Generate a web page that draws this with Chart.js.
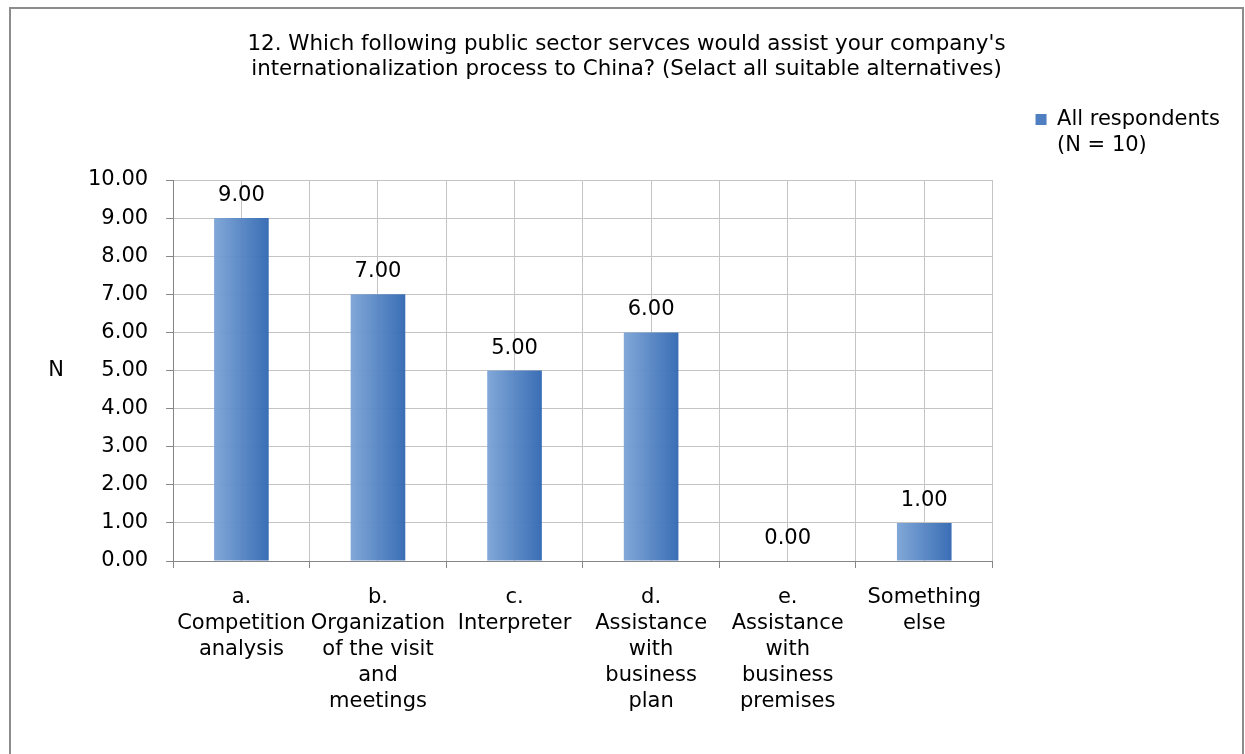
<!DOCTYPE html>
<html>
<head>
<meta charset="utf-8">
<script src="https://cdn.jsdelivr.net/npm/chart.js@4.4.1/dist/chart.umd.min.js"></script>
<style>
  html, body { margin: 0; padding: 0; background: #fff; overflow: hidden; }
  #frame { position: absolute; left: 9px; top: 7px; width: 1231px; height: 800px; border: 2px solid #8c8c8c; }
  #wrap { position: relative; width: 1231px; height: 745px; }
</style>
</head>
<body>
<div id="frame"><div id="wrap"><canvas id="chart"></canvas></div></div>
<script>
// ── Data ──────────────────────────────────────────────────────────────────────
const titleLines = [
  "12. Which following public sector servces would assist your company's",
  'internationalization process to China? (Selact all suitable alternatives)'
];
const categories = [
  ['a.', 'Competition', 'analysis'],
  ['b.', 'Organization', 'of the visit', 'and', 'meetings'],
  ['c.', 'Interpreter'],
  ['d.', 'Assistance', 'with', 'business', 'plan'],
  ['e.', 'Assistance', 'with', 'business', 'premises'],
  ['Something', 'else'],
];
const seriesLabel = ['All respondents', '(N = 10)'];
const values = [9, 7, 5, 6, 0, 1];
const yTicks = [0, 1, 2, 3, 4, 5, 6, 7, 8, 9, 10];
const yAxisLabel = 'N';

const FONT = 'DejaVu Sans, Verdana, sans-serif';
const FS = 21;
const GRID = '#c4c4c4';
const AXIS = '#868686';
const BAR_PCT = 0.4;

// ── Plugins ───────────────────────────────────────────────────────────────────
const valueLabels = {
  id: 'valueLabels',
  afterDatasetsDraw(chart) {
    const ctx = chart.ctx;
    const meta = chart.getDatasetMeta(0);
    ctx.save();
    ctx.font = `${FS}px ${FONT}`;
    ctx.fillStyle = '#000';
    ctx.textAlign = 'center';
    ctx.textBaseline = 'alphabetic';
    meta.data.forEach((bar, i) => {
      ctx.fillText(values[i].toFixed(2), bar.x, bar.y - 17);
    });
    ctx.restore();
  }
};

const axisLabel = {
  id: 'axisLabel',
  afterDraw(chart) {
    const { ctx, chartArea } = chart;
    ctx.save();
    ctx.font = `${FS}px ${FONT}`;
    ctx.fillStyle = '#000';
    ctx.textAlign = 'center';
    ctx.textBaseline = 'middle';
    ctx.fillText(yAxisLabel, chartArea.left - 117, (chartArea.top + chartArea.bottom) / 2);
    ctx.restore();
  }
};

function barGradient(context) {
  const chart = context.chart;
  const xs = chart.scales.x;
  if (!chart.chartArea || !xs) return '#5a88c6';
  const cx = xs.getPixelForValue(context.dataIndex);
  const w = (xs.width / categories.length) * BAR_PCT;
  const g = chart.ctx.createLinearGradient(cx - w / 2, 0, cx + w / 2, 0);
  g.addColorStop(0, 'rgba(124,164,214,0.96)');
  g.addColorStop(1, 'rgba(50,104,178,0.96)');
  return g;
}

// ── Chart ─────────────────────────────────────────────────────────────────────
new Chart(document.getElementById('chart'), {
  type: 'bar',
  data: {
    labels: categories,
    datasets: [{
      label: seriesLabel,
      data: values,
      backgroundColor: barGradient,
      borderWidth: 0,
      barPercentage: BAR_PCT,
      categoryPercentage: 1,
    }]
  },
  options: {
    responsive: true,
    maintainAspectRatio: false,
    animation: false,
    layout: { padding: { left: 12, right: 12, top: 0, bottom: 22 } },
    plugins: {
      title: {
        display: true,
        text: titleLines,
        color: '#000',
        font: { family: FONT, size: 21.4, weight: 'normal', lineHeight: '25px' },
        padding: { top: 23, bottom: 98 },
      },
      legend: {
        position: 'right',
        align: 'start',
        title: { display: true, text: '', font: { size: 10, lineHeight: 1 }, padding: { top: 47, bottom: 0 } },
        labels: {
          boxWidth: 11,
          boxHeight: 11,
          padding: 43,
          color: '#000',
          textAlign: 'left',
          font: { family: FONT, size: FS, lineHeight: '26px' },
          generateLabels: chart => [{
            text: seriesLabel,
            fillStyle: '#4f7fc0',
            strokeStyle: '#4f7fc0',
            fontColor: '#000',
            lineWidth: 0,
            textAlign: 'left',
            datasetIndex: 0,
          }],
        },
      },
      tooltip: { enabled: false },
    },
    scales: {
      x: {
        offset: true,
        grid: { color: GRID, tickColor: AXIS, tickLength: 7, offset: true },
        border: { color: AXIS, width: 1 },
        ticks: {
          color: '#000',
          padding: 17,
          maxRotation: 0,
          autoSkip: false,
          font: { family: FONT, size: FS, lineHeight: '26px' },
        },
      },
      xMid: {
        type: 'category',
        position: 'top',
        offset: true,
        grid: { color: GRID, drawTicks: false, offset: false },
        border: { display: false },
        ticks: { display: false },
      },
      y: {
        min: 0,
        max: 10,
        afterBuildTicks: s => { s.ticks = yTicks.map(v => ({ value: v })); },
        afterFit: s => { s.width += 47; },
        grid: { color: GRID, tickColor: AXIS, tickLength: 7 },
        border: { color: AXIS, width: 1 },
        ticks: {
          color: '#000',
          padding: 18,
          font: { family: FONT, size: FS },
          callback: v => Number(v).toFixed(2),
        },
      },
    },
  },
  plugins: [valueLabels, axisLabel],
});
</script>
</body>
</html>
